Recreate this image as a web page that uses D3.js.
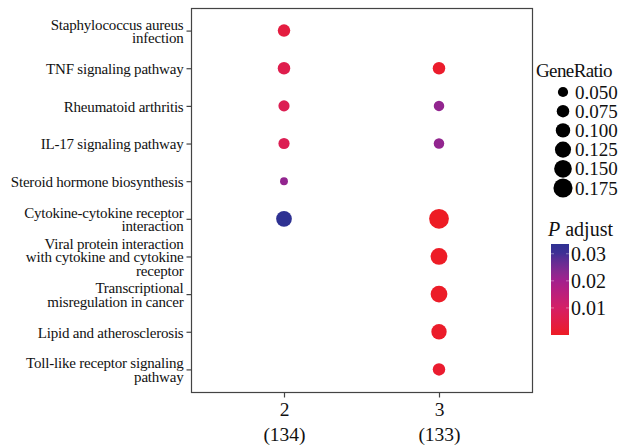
<!DOCTYPE html>
<html>
<head>
<meta charset="utf-8">
<script src="https://cdn.jsdelivr.net/npm/d3@7"></script>
<style>
  body { margin: 0; background: #fff; }
  svg { display: block; }
  svg text { font-family: "Liberation Serif", "DejaVu Serif", serif; }
</style>
</head>
<body>
<svg id="chart" width="633" height="446"></svg>
<script>
const pathways = [
  ['Staphylococcus aureus', 'infection'],
  ['TNF signaling pathway'],
  ['Rheumatoid arthritis'],
  ['IL-17 signaling pathway'],
  ['Steroid hormone biosynthesis'],
  ['Cytokine-cytokine receptor', 'interaction'],
  ['Viral protein interaction', 'with cytokine and cytokine', 'receptor'],
  ['Transcriptional', 'misregulation in cancer'],
  ['Lipid and atherosclerosis'],
  ['Toll-like receptor signaling', 'pathway']
];
const clusters = ['2', '3'];
const clusterSizes = [134, 133];

// GeneRatio and p.adjust per pathway, null = not enriched
const ratio2 = [0.075, 0.075, 0.060, 0.060, 0.030, 0.119, null, null, null, null];
const padj2 = [0.004, 0.006, 0.007, 0.007, 0.022, 0.0336, null, null, null, null];
const ratio3 = [null, 0.075, 0.053, 0.053, null, 0.188, 0.135, 0.135, 0.113, 0.075];
const padj3 = [null, 0.001, 0.022, 0.022, null, 0.00001, 0.0002, 0.0005, 0.0008, 0.0015];

const sizeBreaks = [0.050, 0.075, 0.100, 0.125, 0.150, 0.175];
const colorTicks = [0.01, 0.02, 0.03];

const svg = d3.select('#chart');
const keys = pathways.map(p => p.join(' '));

const points = [];
[[ratio2, padj2], [ratio3, padj3]].forEach(([r, p], ci) => {
  r.forEach((v, i) => {
    if (v != null) points.push({ cluster: clusters[ci], path: keys[i], ratio: v, padj: p[i] });
  });
});

const pMin = d3.min(points, d => d.padj);
const pMax = d3.max(points, d => d.padj);

const x = d3.scalePoint().domain(clusters).range([191, 532]).padding(0.6);
const y = d3.scalePoint().domain(keys).range([8, 392]).padding(0.6);
const size = d3.scaleSqrt().domain([0, 0.2]).range([0, 10.2]);
// red -> magenta -> blue, like the printed gradient
const gradStops = [0, 0.3, 0.6, 0.9, 1];
const gradColors = ['#ED1C24', '#D41F66', '#A2208E', '#3E2F95', '#2E3192'];
const color = d3.scaleLinear()
  .domain(gradStops.map(t => pMin + t * (pMax - pMin)))
  .range(gradColors).interpolate(d3.interpolateLab);

// panel border
svg.append('rect')
  .attr('x', 191.5).attr('y', 8.5)
  .attr('width', 341).attr('height', 384)
  .attr('fill', 'none').attr('stroke', '#444').attr('stroke-width', 1.2);

// y axis
const yAxis = svg.append('g').attr('transform', 'translate(191.5,0)')
  .call(d3.axisLeft(y).tickSize(5).tickFormat(''))
  .attr('font-family', null).attr('font-size', null);
yAxis.select('.domain').remove();
yAxis.selectAll('line').attr('stroke', '#444').attr('stroke-width', 1.2);

yAxis.selectAll('.tick').each(function(d, i) {
  const lines = pathways[i];
  const lh = 13.6;
  const t = d3.select(this).append('text')
    .attr('x', -8).attr('text-anchor', 'end')
    .attr('fill', '#111').style('font-size', '15px')
    .style('letter-spacing', '-0.2px');
  lines.forEach((s, k) => {
    t.append('tspan').attr('x', -8)
      .attr('y', (k - (lines.length - 1) / 2) * lh)
      .attr('dy', '0.35em').text(s);
  });
});

// x axis
const xAxis = svg.append('g').attr('transform', 'translate(0,392.5)')
  .call(d3.axisBottom(x).tickSize(5).tickFormat(''))
  .attr('font-family', null).attr('font-size', null);
xAxis.select('.domain').remove();
xAxis.selectAll('line').attr('stroke', '#444').attr('stroke-width', 1.2);
xAxis.selectAll('.tick').each(function(d, i) {
  const t = d3.select(this).append('text')
    .attr('text-anchor', 'middle').attr('fill', '#111')
    .style('font-size', '19.5px');
  t.append('tspan').attr('x', 0).attr('y', 23).text(d);
  t.append('tspan').attr('x', 0).attr('y', 48).text('(' + clusterSizes[i] + ')');
});

// dots
svg.append('g').selectAll('circle')
  .data(points)
  .join('circle')
  .attr('cx', d => x(d.cluster))
  .attr('cy', d => y(d.path))
  .attr('r', d => size(d.ratio))
  .attr('fill', d => color(d.padj));

// size legend
const sl = svg.append('g');
sl.append('text').attr('x', 536).attr('y', 77)
  .style('font-size', '19px').style('letter-spacing', '-0.6px')
  .attr('fill', '#111').text('GeneRatio');
sizeBreaks.forEach((b, i) => {
  const cy = 92 + i * 19.2;
  sl.append('circle').attr('cx', 563).attr('cy', cy).attr('r', size(b)).attr('fill', '#000');
  sl.append('text').attr('x', 575).attr('y', cy).attr('dy', '0.35em')
    .style('font-size', '19px').attr('fill', '#111').text(d3.format('.3f')(b));
});

// colour legend
const cl = svg.append('g');
const title = cl.append('text').attr('x', 548).attr('y', 236)
  .style('font-size', '20px').attr('fill', '#111');
title.append('tspan').style('font-style', 'italic').text('P');
title.append('tspan').text(' adjust');

const defs = svg.append('defs');
const grad = defs.append('linearGradient').attr('id', 'pgrad')
  .attr('x1', 0).attr('y1', 1).attr('x2', 0).attr('y2', 0);
d3.range(0, 1.001, 0.05).forEach(t => {
  grad.append('stop').attr('offset', t)
    .attr('stop-color', color(pMin + t * (pMax - pMin)));
});

const barTop = 244, barBottom = 335, barX = 551, barW = 18;
const cy = d3.scaleLinear().domain([pMin, pMax]).range([barBottom, barTop]);
cl.append('rect').attr('x', barX).attr('y', barTop)
  .attr('width', barW).attr('height', barBottom - barTop)
  .attr('fill', 'url(#pgrad)');
colorTicks.forEach(v => {
  cl.append('line').attr('x1', barX).attr('x2', barX + 3)
    .attr('y1', cy(v)).attr('y2', cy(v)).attr('stroke', '#fff').attr('stroke-opacity', 0.4);
  cl.append('line').attr('x1', barX + barW - 3).attr('x2', barX + barW)
    .attr('y1', cy(v)).attr('y2', cy(v)).attr('stroke', '#fff').attr('stroke-opacity', 0.4);
  cl.append('text').attr('x', barX + barW + 2).attr('y', cy(v)).attr('dy', '0.35em')
    .style('font-size', '20px').attr('fill', '#111').text(d3.format('.2f')(v));
});
</script>
</body>
</html>
